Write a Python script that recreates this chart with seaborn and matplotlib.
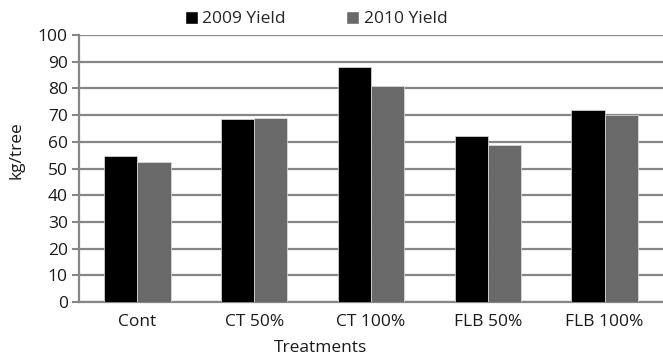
import matplotlib
matplotlib.use("Agg")
import matplotlib.pyplot as plt
import seaborn as sns
import pandas as pd
from matplotlib.patches import Patch

categories = ["Cont", "CT 50%", "CT 100%", "FLB 50%", "FLB 100%"]
yield_2009 = [54.7, 68.5, 88.0, 62.2, 72.0]
yield_2010 = [52.5, 69.1, 80.9, 58.9, 70.0]
series_names = ["2009 Yield", "2010 Yield"]
y_ticks = [0, 10, 20, 30, 40, 50, 60, 70, 80, 90, 100]

df = pd.DataFrame({
    "Treatment": categories * 2,
    "Series": [series_names[0]] * len(categories) + [series_names[1]] * len(categories),
    "Value": yield_2009 + yield_2010,
})

sns.set_theme(style="white")
plt.rcParams["font.family"] = ["Open Sans", "DejaVu Sans"]

FS = 12.5
TXT = "#1a1a1a"

fig = plt.figure(figsize=(6.63, 3.58), dpi=100)
ax = fig.add_axes([79 / 663, 1 - 302 / 358, (663 - 79) / 663, (302 - 35) / 358])

sns.barplot(data=df, x="Treatment", y="Value", hue="Series", order=categories,
            hue_order=series_names, palette=["#000000", "#696969"],
            width=0.57, saturation=1, ax=ax, legend=False, zorder=3,
            edgecolor="#e0e0e0", linewidth=0.5)

ax.set_ylim(0, 100)
ax.set_xlim(-0.5, len(categories) - 0.5)
ax.set_yticks(y_ticks)
ax.set_yticklabels([str(t) for t in y_ticks], fontsize=FS, color=TXT)
ax.tick_params(axis="x", labelsize=FS, colors=TXT, length=0, pad=9)
ax.tick_params(axis="y", length=5, width=1.5, color="#868686", left=True, pad=3)
ax.grid(axis="y", color="#868686", linewidth=1.6, zorder=0)
ax.set_axisbelow(True)
for s in ["top", "right"]:
    ax.spines[s].set_visible(False)
for s in ["left", "bottom"]:
    ax.spines[s].set_color("#868686")
    ax.spines[s].set_linewidth(1.6)

ax.set_xlabel("")
ax.set_ylabel("")
fig.text(321 / 663, 1 - 348 / 358, "Treatments", ha="center", va="center",
         fontsize=FS, color=TXT)
fig.text(17 / 663, 1 - 150 / 358, "kg/tree", rotation=90, ha="center", va="center",
         fontsize=FS, color=TXT)

handles = [Patch(facecolor="#000000"), Patch(facecolor="#696969")]
fig.legend(handles, series_names, loc="center", bbox_to_anchor=(316 / 663, 1 - 19 / 358),
           ncol=2, frameon=False, fontsize=FS, handlelength=0.75, handleheight=0.75,
           handletextpad=0.25, columnspacing=3.5)

fig.savefig("out.png", dpi=100)
